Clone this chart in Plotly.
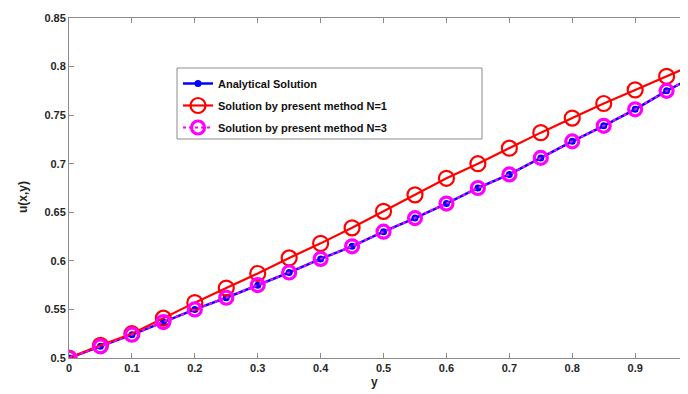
import plotly.graph_objects as go

x_vals = [0.0, 0.05, 0.1, 0.15, 0.2, 0.25, 0.3, 0.35, 0.4, 0.45, 0.5,
          0.55, 0.6, 0.65, 0.7, 0.75, 0.8, 0.85, 0.9, 0.95, 1.0]
analytical = [0.500, 0.512, 0.524, 0.537, 0.550, 0.562, 0.575, 0.588, 0.602, 0.615, 0.630,
              0.644, 0.659, 0.675, 0.689, 0.706, 0.723, 0.739, 0.756, 0.775, 0.792]
present_n1 = [0.500, 0.513, 0.525, 0.541, 0.557, 0.572, 0.587, 0.603, 0.618, 0.634, 0.651,
              0.668, 0.685, 0.700, 0.716, 0.732, 0.747, 0.762, 0.776, 0.790, 0.804]
present_n3 = [0.500, 0.512, 0.524, 0.537, 0.550, 0.562, 0.575, 0.588, 0.602, 0.615, 0.630,
              0.644, 0.659, 0.675, 0.689, 0.706, 0.723, 0.739, 0.756, 0.775, 0.792]

x_ticks = [0.0, 0.1, 0.2, 0.3, 0.4, 0.5, 0.6, 0.7, 0.8, 0.9]
x_tick_text = ["0", "0.1", "0.2", "0.3", "0.4", "0.5", "0.6", "0.7", "0.8", "0.9"]
y_ticks = [0.5, 0.55, 0.6, 0.65, 0.7, 0.75, 0.8, 0.85]
y_tick_text = ["0.5", "0.55", "0.6", "0.65", "0.7", "0.75", "0.8", "0.85"]

names = ["Analytical Solution", "Solution by present method N=1", "Solution by present method N=3"]

FONT = "Liberation Sans, Arial, sans-serif"

fig = go.Figure()
fig.add_trace(go.Scatter(
    x=x_vals, y=analytical, name=names[0], mode="lines+markers",
    line=dict(color="#0000FF", width=2.5),
    marker=dict(symbol="circle", size=7, color="#0000FF"),
    legendgroup="a"))
fig.add_trace(go.Scatter(
    x=x_vals, y=present_n1, name=names[1], mode="lines+markers",
    line=dict(color="#FF0000", width=2.2),
    marker=dict(symbol="circle-open", size=15, color="#FF0000", line=dict(width=2.2)),
    legendgroup="b"))
fig.add_trace(go.Scatter(
    x=x_vals, y=present_n3, name=names[2], mode="lines+markers",
    line=dict(color="#FF00FF", width=2.2, dash="dot"),
    marker=dict(symbol="circle-open", size=13, color="#FF00FF", line=dict(width=3.2)),
    legendgroup="c"))

axis_common = dict(
    showgrid=False, zeroline=False, showline=True, linecolor="#8c8c8c", linewidth=1,
    mirror="ticks", ticks="inside", ticklen=5, tickcolor="#8c8c8c",
    tickfont=dict(family=FONT, size=11, color="#262626", weight="bold"),
)

fig.update_xaxes(range=[0, 0.984], tickvals=x_ticks, ticktext=x_tick_text, **axis_common)
fig.update_yaxes(range=[0.5, 0.85], tickvals=y_ticks, ticktext=y_tick_text, **axis_common)

# legend frame
fig.add_shape(type="rect", xref="paper", yref="paper",
              x0=(177 - 69) / 619, x1=(482 - 69) / 619,
              y0=(358 - 139) / 340, y1=(358 - 68) / 340,
              line=dict(color="#8c8c8c", width=1), fillcolor="white", layer="below")

fig.update_layout(
    width=680, height=386,
    margin=dict(l=61, r=0, t=10, b=36),
    paper_bgcolor="white", plot_bgcolor="white",
    showlegend=True,
    legend=dict(
        x=(178 - 69) / 619, y=(358 - 69) / 340, xanchor="left", yanchor="top",
        bgcolor="rgba(0,0,0,0)", borderwidth=0,
        font=dict(family=FONT, size=11, color="#111111", weight="bold"),
        tracegroupgap=3, itemwidth=30,
    ),
    annotations=[
        dict(text="y", xref="paper", yref="paper", x=(374 - 69) / 619, y=(358 - 391) / 340,
             showarrow=False, font=dict(family=FONT, size=12, color="#262626", weight="bold")),
        dict(text="u(x,y)", xref="paper", yref="paper", x=(14 - 69) / 619, y=(358 - 197) / 340,
             textangle=-90, showarrow=False,
             font=dict(family=FONT, size=12, color="#262626", weight="bold")),
    ],
)

fig.write_html("out.html")
